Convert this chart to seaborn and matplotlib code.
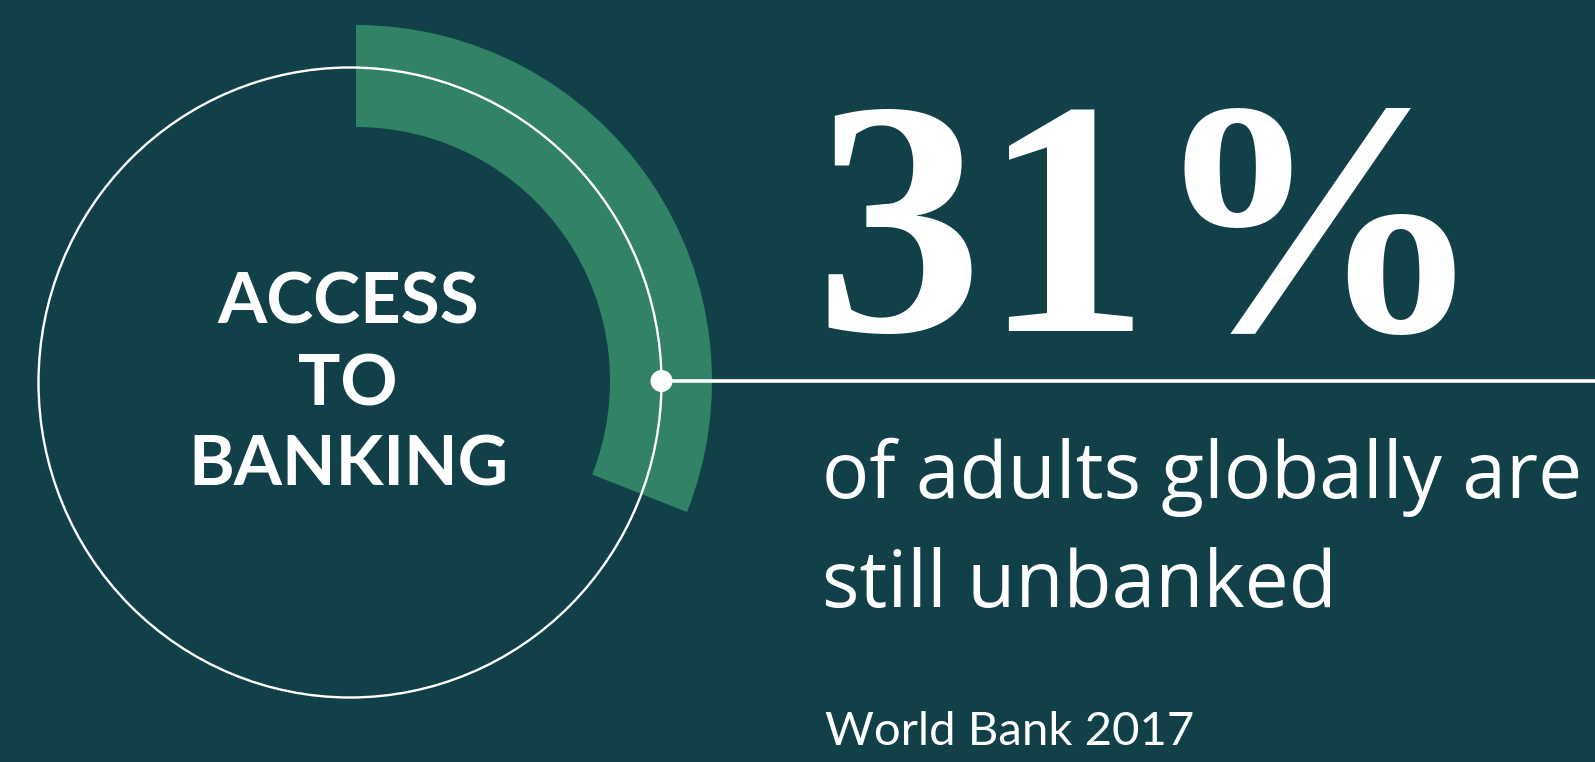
import matplotlib
matplotlib.use("Agg")
import matplotlib.pyplot as plt
from matplotlib.patches import Ellipse, Circle
import seaborn as sns

# ---- data ----
share_labels = ["Unbanked", "Banked"]
share_values = [31, 69]
headline_text = "31%"
title_lines = ["ACCESS", "TO", "BANKING"]
body_lines = ["of adults globally are", "still unbanked"]
source_text = "World Bank 2017"

# ---- style ----
BG = "#114048"
GREEN = "#328265"
WHITE = "#ffffff"

sns.set_theme(style="white")
plt.rcParams["font.family"] = ["Lato", "DejaVu Sans"]

W, H = 1595, 762
fig = plt.figure(figsize=(W / 100, H / 100), dpi=100, facecolor=BG)
ax = fig.add_axes([0, 0, 1, 1])
ax.set_facecolor(BG)

def yp(y):
    return H - y

# progress arc via pie
arc_cx, arc_cy, arc_r, arc_w = 356, 381, 356, 102
ax.pie(share_values, colors=[GREEN, "none"], startangle=90, counterclock=False,
       radius=arc_r, center=(arc_cx, yp(arc_cy)),
       wedgeprops=dict(width=arc_w, linewidth=0, edgecolor="none"))

# white ring
ring_cx, ring_cy, ring_rx, ring_ry = 350, 382.5, 311.5, 315
ax.add_patch(Ellipse((ring_cx, yp(ring_cy)), 2 * ring_rx, 2 * ring_ry, fill=False,
                     edgecolor=WHITE, linewidth=1.7, zorder=3))

# connector line + dot
dot_x = ring_cx + ring_rx
ax.plot([dot_x, W], [yp(arc_cy), yp(arc_cy)], color=WHITE, linewidth=2.6,
        solid_capstyle="butt", zorder=4)
ax.add_patch(Circle((dot_x, yp(arc_cy)), 11, facecolor=WHITE, edgecolor="none", zorder=5))

# title inside the circle
title_baselines = [324, 406, 485]
title_sizes = [51, 51, 50]
for txt, by, fs in zip(title_lines, title_baselines, title_sizes):
    ax.text(348, yp(by), txt, color=WHITE, fontsize=fs, fontweight="bold",
            ha="center", va="baseline", zorder=6)

# big headline number
ax.text(814, yp(331), headline_text, color=WHITE, fontsize=242, fontweight="bold",
        family=["Liberation Serif", "DejaVu Serif"], ha="left", va="baseline", zorder=6)

# body text
body_baselines = [498, 607]
for txt, by in zip(body_lines, body_baselines):
    ax.text(822, yp(by), txt, color=WHITE, fontsize=56.5, fontweight="normal",
            family=["Open Sans", "DejaVu Sans"], ha="left", va="baseline", zorder=6)

ax.text(825, yp(745), source_text, color=WHITE, fontsize=34, fontweight="normal",
        ha="left", va="baseline", zorder=6)

ax.set_xlim(0, W)
ax.set_ylim(0, H)
ax.set_aspect("auto")
ax.axis("off")

fig.savefig("out.png", dpi=100, facecolor=BG)
